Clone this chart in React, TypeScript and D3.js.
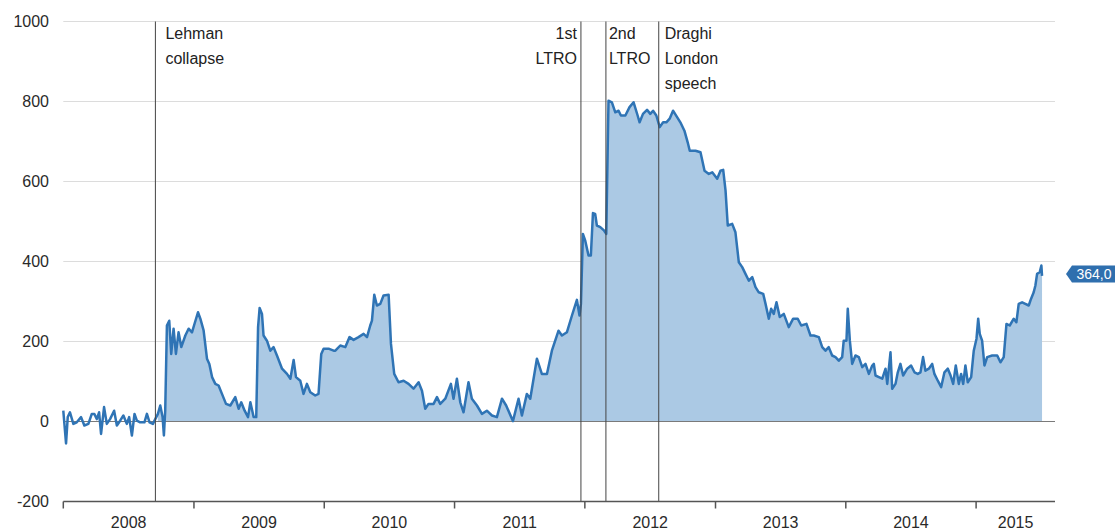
import React, { useEffect, useRef } from "react";
import * as d3 from "d3";

// observation times as decimal years, values in bn EUR
const times = [
  2008.0, 2008.021, 2008.034, 2008.051, 2008.077, 2008.103, 2008.136, 2008.161, 2008.192, 2008.218,
  2008.238, 2008.256, 2008.274, 2008.289, 2008.312, 2008.333, 2008.358, 2008.389, 2008.41, 2008.435,
  2008.46, 2008.486, 2008.504, 2008.525, 2008.545, 2008.563, 2008.588, 2008.621, 2008.64, 2008.66,
  2008.686, 2008.704, 2008.724, 2008.742, 2008.76, 2008.77, 2008.78, 2008.793,
  2008.811, 2008.826, 2008.844, 2008.862, 2008.882, 2008.903, 2008.934, 2008.959, 2008.985, 2009.005,
  2009.031, 2009.049, 2009.074, 2009.1, 2009.118, 2009.139, 2009.164, 2009.189, 2009.215, 2009.246,
  2009.279, 2009.317, 2009.343, 2009.363, 2009.389, 2009.415, 2009.433, 2009.458, 2009.478, 2009.492,
  2009.504, 2009.522, 2009.534, 2009.56, 2009.586, 2009.611, 2009.637, 2009.676, 2009.714, 2009.74,
  2009.765, 2009.783, 2009.816, 2009.841, 2009.867, 2009.893, 2009.931, 2009.956, 2009.977, 2009.995,
  2010.033, 2010.072, 2010.085, 2010.123, 2010.162, 2010.194, 2010.225, 2010.263, 2010.302, 2010.328,
  2010.353, 2010.366, 2010.384, 2010.404, 2010.43, 2010.455, 2010.494, 2010.512, 2010.537, 2010.57,
  2010.609, 2010.647, 2010.685, 2010.724, 2010.75, 2010.775, 2010.8, 2010.839, 2010.865, 2010.89,
  2010.929, 2010.972, 2010.992, 2011.018, 2011.044, 2011.069, 2011.107, 2011.133, 2011.172, 2011.21,
  2011.248, 2011.287, 2011.325, 2011.364, 2011.396, 2011.448, 2011.491, 2011.517, 2011.555, 2011.581,
  2011.632, 2011.67, 2011.709, 2011.747, 2011.798, 2011.824, 2011.862, 2011.901, 2011.939, 2011.959,
  2011.97, 2011.985, 2012.003, 2012.028, 2012.046, 2012.062, 2012.079, 2012.092, 2012.118, 2012.148,
  2012.164, 2012.181, 2012.207, 2012.233, 2012.258, 2012.276, 2012.31, 2012.342, 2012.373, 2012.404,
  2012.419, 2012.445, 2012.476, 2012.501, 2012.522, 2012.547, 2012.573, 2012.599, 2012.624, 2012.649,
  2012.675, 2012.706, 2012.731, 2012.762, 2012.787, 2012.803, 2012.847, 2012.885, 2012.916, 2012.949,
  2012.975, 2013.013, 2013.038, 2013.059, 2013.077, 2013.094, 2013.128, 2013.153, 2013.179, 2013.205,
  2013.23, 2013.256, 2013.282, 2013.307, 2013.332, 2013.366, 2013.384, 2013.409, 2013.427, 2013.447,
  2013.468, 2013.493, 2013.524, 2013.562, 2013.596, 2013.631, 2013.658, 2013.698, 2013.729, 2013.754,
  2013.793, 2013.819, 2013.844, 2013.869, 2013.895, 2013.921, 2013.946, 2013.972, 2013.984, 2014.005,
  2014.015, 2014.031, 2014.049, 2014.074, 2014.1, 2014.126, 2014.151, 2014.177, 2014.203, 2014.215,
  2014.228, 2014.254, 2014.28, 2014.305, 2014.318, 2014.343, 2014.356, 2014.381, 2014.399, 2014.419,
  2014.44, 2014.471, 2014.501, 2014.527, 2014.552, 2014.573, 2014.593, 2014.611, 2014.637, 2014.663,
  2014.68, 2014.706, 2014.732, 2014.757, 2014.783, 2014.804, 2014.824, 2014.844, 2014.867, 2014.885,
  2014.901, 2014.918, 2014.936, 2014.962, 2014.982, 2015.003, 2015.016, 2015.028, 2015.046, 2015.064,
  2015.085, 2015.123, 2015.162, 2015.187, 2015.212, 2015.233, 2015.258, 2015.289, 2015.309, 2015.327,
  2015.353, 2015.378, 2015.404, 2015.422, 2015.442, 2015.455, 2015.468, 2015.488, 2015.501, 2015.506,
];

const values = [
  27, -55, 11, 23, -6, -2, 11, -10, -6, 19,
  19, 6, 23, -31, 36, -6, 6, 27, -10, 2,
  15, -6, 11, -35, 19, 2, -2, -2, 19, -2,
  -6, 6, 19, 40, 11, -35, 27, 240,
  252, 169, 232, 169, 223, 186, 215, 232, 223, 245,
  273, 257, 228, 157, 144, 111, 94, 90, 69, 44,
  40, 61, 32, 48, 27, 11, 48, 11, 11, 236,
  284, 269, 215, 202, 177, 186, 165, 132, 119, 107,
  154, 111, 102, 69, 94, 73, 65, 69, 169, 182,
  182, 177, 177, 190, 186, 211, 204, 211, 219, 211,
  240, 252, 317, 290, 294, 315, 317, 194, 119, 98,
  102, 94, 82, 98, 77, 32, 44, 44, 61, 44,
  57, 94, 57, 107, 48, 23, 98, 57, 40, 19,
  27, 15, 11, 57, 40, 1, 57, 15, 69, 57,
  157, 119, 119, 177, 227, 215, 223, 265, 304, 265,
  294, 469, 452, 415, 415, 521, 519, 490, 486, 477,
  469, 802, 798, 773, 777, 765, 765, 786, 798, 765,
  748, 769, 779, 769, 777, 765, 736, 748, 748, 757,
  777, 761, 748, 727, 698, 677, 677, 673, 627, 619,
  623, 607, 627, 629, 577, 490, 494, 473, 398, 386,
  369, 352, 361, 336, 323, 319, 294, 257, 282, 269,
  298, 261, 269, 236, 257, 257, 240, 244, 215, 215,
  211, 186, 177, 186, 165, 161, 152, 161, 202, 202,
  282, 202, 144, 165, 161, 136, 144, 119, 140, 144,
  115, 111, 107, 132, 94, 173, 82, 94, 123, 144,
  115, 132, 140, 123, 119, 123, 161, 127, 132, 144,
  119, 102, 86, 123, 132, 115, 94, 140, 94, 119,
  94, 140, 98, 111, 177, 207, 257, 219, 202, 140,
  161, 165, 165, 148, 161, 244, 240, 257, 248, 294,
  298, 294, 290, 307, 323, 340, 369, 373, 390, 364,
];

const yTicks = [-200, 0, 200, 400, 600, 800, 1000];
const years = [2008, 2009, 2010, 2011, 2012, 2013, 2014, 2015];
const eventDates = ["2008-09-15", "2011-12-21", "2012-02-29", "2012-07-26"];
const eventLabels = [["Lehman", "collapse"], ["1st", "LTRO"], ["2nd", "LTRO"], ["Draghi", "London", "speech"]];
const domainStart = "2008-01-01";
const domainEnd = "2015-08-10";
const lastLabel = "364,0";

const toDate = (t: number) => {
  const y = Math.floor(t);
  const a = Date.UTC(y, 0, 1);
  const b = Date.UTC(y + 1, 0, 1);
  return new Date(a + (t - y) * (b - a));
};

function App() {
  const svgRef = useRef<SVGSVGElement | null>(null);

  useEffect(() => {
    drawChart();
  }, []);

  const drawChart = () => {
    const svg = d3.select(svgRef.current);
    svg.selectAll("*").remove();

    const left = 63.3;
    const right = 1055;
    const top = 21.5;
    const bottom = 501.5;
    const font = "Arial, 'Liberation Sans', sans-serif";

    const data = times.map((t, i) => ({ date: toDate(t), value: values[i] }));
    const events = eventDates.map((d, i) => ({ date: new Date(d), lines: eventLabels[i] }));

    const x = d3
      .scaleUtc()
      .domain([new Date(domainStart), new Date(domainEnd)])
      .range([left, right]);

    const y = d3.scaleLinear().domain([-200, 1000]).range([bottom, top]);

    // gridlines
    svg
      .append("g")
      .selectAll("line")
      .data(yTicks.filter((v) => v > 0))
      .enter()
      .append("line")
      .attr("x1", left)
      .attr("x2", right)
      .attr("y1", (d) => y(d))
      .attr("y2", (d) => y(d))
      .attr("stroke", "#dcdcdc")
      .attr("stroke-width", 1);

    // y labels
    svg
      .append("g")
      .selectAll("text")
      .data(yTicks)
      .enter()
      .append("text")
      .attr("x", 49)
      .attr("y", (d) => y(d))
      .attr("dy", "0.35em")
      .attr("text-anchor", "end")
      .attr("font-family", font)
      .attr("font-size", 16)
      .attr("fill", "#2a2a2a")
      .text((d) => d);

    // area from Lehman on
    const lehman = events[0].date;
    const areaData = data.filter((d) => d.date >= lehman);
    const area = d3
      .area<{ date: Date; value: number }>()
      .x((d) => x(d.date))
      .y0(y(0))
      .y1((d) => y(d.value));

    svg
      .append("path")
      .datum(areaData)
      .attr("fill", "#abc9e4")
      .attr("d", area);

    // zero line
    svg
      .append("line")
      .attr("x1", left)
      .attr("x2", right)
      .attr("y1", y(0))
      .attr("y2", y(0))
      .attr("stroke", "#7a7a7a")
      .attr("stroke-width", 1);

    const line = d3
      .line<{ date: Date; value: number }>()
      .x((d) => x(d.date))
      .y((d) => y(d.value));

    svg
      .append("path")
      .datum(data)
      .attr("fill", "none")
      .attr("stroke", "#2f74b5")
      .attr("stroke-width", 2.5)
      .attr("stroke-linejoin", "round")
      .attr("d", line);

    // event markers
    const textOffsets = [10, -4, 3, 6];
    const ev = svg
      .append("g")
      .selectAll("g")
      .data(events)
      .enter()
      .append("g");

    ev.append("line")
      .attr("x1", (d) => x(d.date))
      .attr("x2", (d) => x(d.date))
      .attr("y1", top)
      .attr("y2", bottom)
      .attr("stroke", "#444")
      .attr("stroke-width", 1);

    ev.each(function (d, i) {
      const g = d3.select(this);
      const anchor = textOffsets[i] < 0 ? "end" : "start";
      d.lines.forEach((txt, j) => {
        g.append("text")
          .attr("x", x(d.date) + textOffsets[i])
          .attr("y", 38.5 + j * 25)
          .attr("text-anchor", anchor)
          .attr("font-family", font)
          .attr("font-size", 16)
          .attr("fill", "#222")
          .text(txt);
      });
    });

    // x axis
    svg
      .append("line")
      .attr("x1", left)
      .attr("x2", right)
      .attr("y1", bottom)
      .attr("y2", bottom)
      .attr("stroke", "#555")
      .attr("stroke-width", 1.5);

    const yearStarts = years.map((yr) => new Date(Date.UTC(yr, 0, 1)));
    svg
      .append("g")
      .selectAll("line")
      .data(yearStarts)
      .enter()
      .append("line")
      .attr("x1", (d) => x(d))
      .attr("x2", (d) => x(d))
      .attr("y1", bottom)
      .attr("y2", bottom + 7)
      .attr("stroke", "#555")
      .attr("stroke-width", 1.5);

    const end = x.domain()[1];
    svg
      .append("g")
      .selectAll("text")
      .data(years)
      .enter()
      .append("text")
      .attr("x", (yr) => {
        const a = x(new Date(Date.UTC(yr, 0, 1)));
        const nb = new Date(Date.UTC(yr + 1, 0, 1));
        const b = x(nb > end ? end : nb);
        return (a + b) / 2;
      })
      .attr("y", 527.5)
      .attr("text-anchor", "middle")
      .attr("font-family", font)
      .attr("font-size", 16)
      .attr("fill", "#2a2a2a")
      .text((d) => d);

    // last value flag
    const last = data[data.length - 1];
    const ly = y(last.value) - 2;
    const lx = right + 11;
    svg
      .append("path")
      .attr(
        "d",
        `M${lx},${ly} L${lx + 6},${ly - 8.5} L${lx + 49},${ly - 8.5} L${lx + 49},${ly + 8.5} L${lx + 6},${ly + 8.5} Z`
      )
      .attr("fill", "#2f6fae");
    svg
      .append("text")
      .attr("x", lx + 28)
      .attr("y", ly)
      .attr("dy", "0.36em")
      .attr("text-anchor", "middle")
      .attr("font-family", font)
      .attr("font-size", 14)
      .attr("fill", "#fff")
      .text(lastLabel);
  };

  return (
    <div>
      <svg
        ref={svgRef}
        width={1120}
        height={530}
        style={{ position: "absolute", left: 0, top: 0, display: "block" }}
      />
    </div>
  );
}

export default App;
